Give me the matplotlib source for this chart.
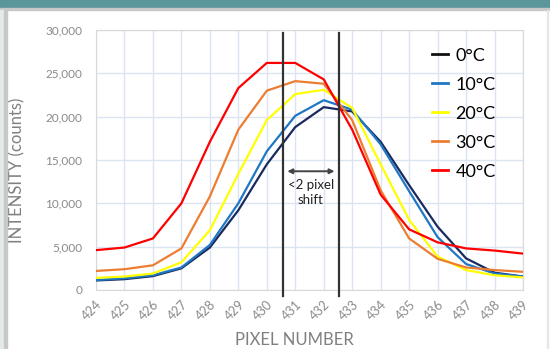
import matplotlib
matplotlib.use('Agg')
import numpy as np
from matplotlib import pyplot as plt
from matplotlib.patches import Rectangle

plt.rcParams['font.family'] = ['Lato', 'DejaVu Sans']

# pixel numbers on x axis
pixels = list(range(424, 440))

# intensity (counts) per temperature
t0 = [1100, 1250, 1600, 2500, 4900, 9200, 14500, 18800, 21100, 20600, 17100, 12100, 7300, 3650, 2000, 1550]
t10 = [1150, 1350, 1700, 2600, 5200, 10000, 16000, 20100, 21900, 20800, 16800, 11400, 6100, 3000, 1900, 1550]
t20 = [1400, 1550, 1900, 3200, 6900, 13400, 19600, 22600, 23100, 21000, 14500, 8100, 3850, 2300, 1700, 1450]
t30 = [2200, 2400, 2850, 4800, 10800, 18500, 23000, 24100, 23800, 19600, 11500, 5950, 3600, 2600, 2300, 2100]
t40 = [4600, 4900, 5950, 10000, 17100, 23300, 26200, 26200, 24300, 18500, 11000, 7000, 5500, 4800, 4550, 4200]

labels = ['0°C', '10°C', '20°C', '30°C', '40°C']
colors = ['#1a2a5e', '#1f77c4', '#ffff00', '#ed7d31', '#ff0000']

fig = plt.figure(figsize=(5.5, 3.49), dpi=100)

# page frame
fig.patches.append(Rectangle((0, 1 - 8 / 349), 1, 8 / 349, transform=fig.transFigure,
                             color='#5a969c', zorder=0))
fig.patches.append(Rectangle((0, 1 - 10 / 349), 1, 2 / 349, transform=fig.transFigure,
                             color='#c8c8c8', zorder=0))
fig.patches.append(Rectangle((0, 0), 4 / 550, 1 - 10 / 349, transform=fig.transFigure,
                             color='#e4eaea', zorder=0))
fig.patches.append(Rectangle((4 / 550, 0), 3 / 550, 1 - 10 / 349, transform=fig.transFigure,
                             color='#c8c8c8', zorder=0))
fig.patches.append(Rectangle((547 / 550, 0), 1 / 550, 1 - 10 / 349, transform=fig.transFigure,
                             color='#e6e6e6', zorder=0))

ax = fig.add_axes([96 / 550, 59 / 349, 427 / 550, 260 / 349])

for y, lab, c in zip([t0, t10, t20, t30, t40], labels, colors):
    ax.plot(pixels, y, color=c, lw=1.6, label=lab, zorder=3)

ax.set_xlim(424, 439)
ax.set_ylim(0, 30000)
ax.set_xticks(pixels)
ax.set_xticklabels([str(p) for p in pixels], rotation=45, ha='right', rotation_mode='anchor',
                   fontsize=9.2, color='#8a8a8a')
ax.set_yticks(range(0, 30001, 5000))
ax.set_yticklabels(['{:,}'.format(v) for v in range(0, 30001, 5000)], fontsize=8.5, color='#8a8a8a')
ax.tick_params(axis='y', length=0, pad=10)
ax.tick_params(axis='x', length=0, pad=6)
ax.grid(True, color='#dce4f2', lw=1)
ax.set_axisbelow(True)
for s in ax.spines.values():
    s.set_color('#d9d9d9')

ax.set_xlabel('PIXEL NUMBER', fontsize=12, color='#808080')
ax.xaxis.set_label_coords(0.465, -0.16)
ax.set_ylabel('INTENSITY (counts)', fontsize=12, color='#808080')
ax.yaxis.set_label_coords(-0.165, 0.46)

# shift markers
for xv in (430.57, 432.53):
    ax.plot([xv, xv], [-700, 29650], color='#333333', lw=1.6, clip_on=False, zorder=4)
ax.annotate('', xy=(430.72, 13700), xytext=(432.38, 13700),
            arrowprops=dict(arrowstyle='<|-|>', color='#444444', lw=1.4,
                            mutation_scale=7, shrinkA=0, shrinkB=0), zorder=5)
ax.text(431.55, 11300, '<2 pixel\nshift', ha='center', va='center', fontsize=9.5,
        color='#222222', linespacing=1.3, zorder=5)

leg = ax.legend(loc='upper left', bbox_to_anchor=(0.77, 0.96), frameon=False, fontsize=13,
                handlelength=0.9, handletextpad=0.4, labelspacing=0.72, borderaxespad=0)
for h in leg.get_lines():
    h.set_linewidth(2)
leg.get_lines()[0].set_color('#111111')

fig.savefig('out.png', dpi=100)
